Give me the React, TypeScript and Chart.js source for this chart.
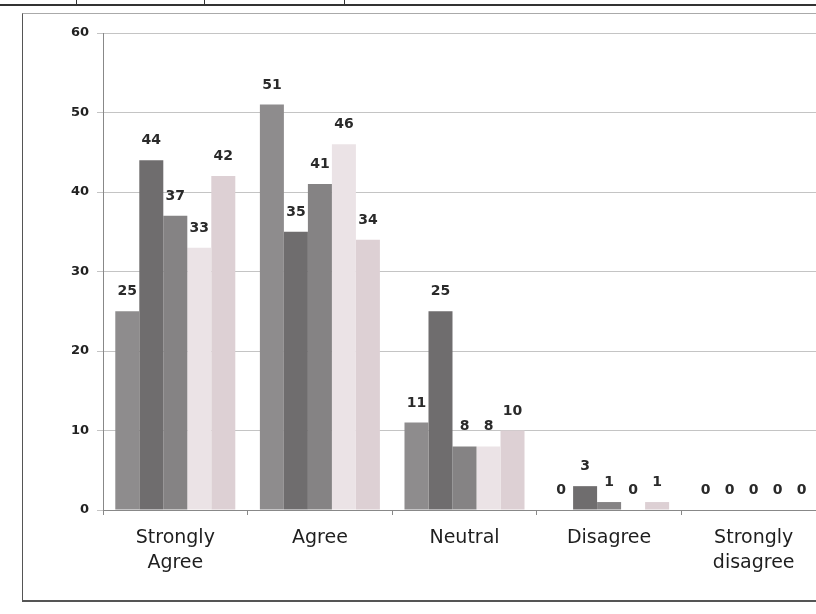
import React, { useEffect, useRef } from "react";
import { Chart, registerables } from "chart.js";

Chart.register(...registerables);

const categories: (string | string[])[] = [
  ["Strongly", "Agree"],
  "Agree",
  "Neutral",
  "Disagree",
  ["Strongly", "disagree"],
];
const series1 = [25, 51, 11, 0, 0];
const series2 = [44, 35, 25, 3, 0];
const series3 = [37, 41, 8, 1, 0];
const series4 = [33, 46, 8, 0, 0];
const series5 = [42, 34, 10, 1, 0];
const seriesColors = ["#8e8c8d", "#6f6d6e", "#858384", "#ebe3e6", "#ddd0d4"];

const valueLabels = {
  id: "valueLabels",
  afterDatasetsDraw(chart: any) {
    const ctx = chart.ctx;
    ctx.save();
    ctx.font = "bold 14px 'DejaVu Sans'";
    ctx.fillStyle = "#2a2a2a";
    ctx.textAlign = "center";
    ctx.textBaseline = "alphabetic";
    chart.data.datasets.forEach((ds: any, i: number) => {
      const meta = chart.getDatasetMeta(i);
      meta.data.forEach((bar: any, j: number) => {
        ctx.fillText(String(ds.data[j]), bar.x, bar.y - 16);
      });
    });
    ctx.restore();
  },
};

export default function App() {
  const ref = useRef<HTMLCanvasElement>(null);
  useEffect(() => {
    if (!ref.current) return;
    const data = [series1, series2, series3, series4, series5];
    const chart = new Chart(ref.current, {
      type: "bar",
      data: {
        labels: categories,
        datasets: data.map((d, i) => ({
          label: "Series " + (i + 1),
          data: d,
          backgroundColor: seriesColors[i],
          borderWidth: 0,
          categoryPercentage: 0.83,
          barPercentage: 1.0,
        })),
      },
      options: {
        animation: false,
        responsive: false,
        maintainAspectRatio: false,
        layout: { padding: { top: 33, right: 0, left: 0, bottom: 0 } },
        plugins: { legend: { display: false }, tooltip: { enabled: false } },
        scales: {
          y: {
            min: 0,
            max: 60,
            ticks: {
              stepSize: 10,
              color: "#222",
              font: { family: "'DejaVu Sans'", size: 13, weight: "bold" },
              padding: 8,
            },
            grid: { color: "#c4c4c4", tickLength: 6 },
            border: { color: "#888" },
            afterFit: (s: any) => {
              s.width = 103;
            },
          },
          x: {
            ticks: {
              color: "#1e1e1e",
              font: { family: "'DejaVu Sans'", size: 19, lineHeight: 1.3 },
              padding: 11,
              maxRotation: 0,
              autoSkip: false,
            },
            grid: { display: true, drawOnChartArea: false, tickLength: 5, color: "#888" },
            border: { color: "#888" },
            afterFit: (s: any) => {
              s.height = 104;
            },
          },
        },
      },
      plugins: [valueLabels],
    });
    return () => chart.destroy();
  }, []);
  return (
    <div
      style={{
        position: "fixed",
        left: 0,
        top: 0,
        width: 816,
        height: 614,
        overflow: "hidden",
        background: "#fff",
      }}
    >
      <div style={{ position: "absolute", left: 0, top: 4, width: 816, borderTop: "2px solid #333" }} />
      <div style={{ position: "absolute", left: 76, top: 0, height: 5, borderLeft: "1px solid #333" }} />
      <div style={{ position: "absolute", left: 204, top: 0, height: 5, borderLeft: "1px solid #333" }} />
      <div style={{ position: "absolute", left: 344, top: 0, height: 5, borderLeft: "1px solid #333" }} />
      <div
        style={{
          position: "absolute",
          left: 22,
          top: 13,
          width: 820,
          height: 586,
          borderLeft: "1px solid #555",
          borderTop: "1px solid #aaa",
          borderBottom: "2px solid #555",
        }}
      />
      <canvas
        ref={ref}
        width={826}
        height={614}
        style={{ position: "absolute", left: 0, top: 0, width: 826, height: 614 }}
      />
    </div>
  );
}
